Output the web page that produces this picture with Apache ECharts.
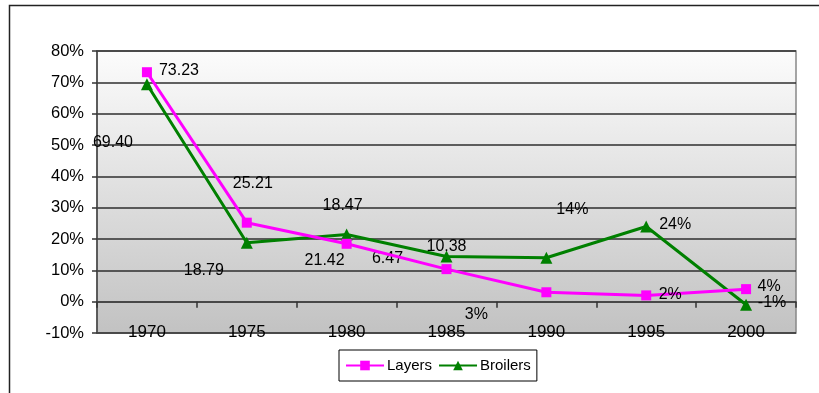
<!DOCTYPE html>
<html>
<head>
<meta charset="utf-8">
<script src="https://cdn.jsdelivr.net/npm/echarts@6/dist/echarts.min.js"></script>
<style>
  html, body { margin: 0; padding: 0; background: #fff; }
  #chart { width: 819px; height: 393px; }
</style>
</head>
<body>
<div id="chart"></div>
<script>
// Annual growth rates (%) for layers and broilers
const years = ['1970', '1975', '1980', '1985', '1990', '1995', '2000'];
const layers = [73.23, 25.21, 18.47, 10.38, 3, 2, 4];
const broilers = [69.40, 18.79, 21.42, 14.4, 14, 24, -1];
const layersLabels = ['73.23', '25.21', '18.47', '10.38', '3%', '2%', '4%'];
const broilersLabels = ['69.40', '18.79', '21.42', '6.47', '14%', '24%', '-1%'];
const yTicks = { min: -10, max: 80, step: 10 };

// Hand-placed label offsets (px) relative to each marker
const layersOffsets = [[32, -2], [6, -39], [-4, -38], [0, -23], [-70, 22], [24, -1], [23, -3]];
const broilersOffsets = [[-34, 58], [-43, 28], [-22, 26], [-59, 2], [26, -48], [29, -2], [26, -2]];

const FONT = '"Liberation Sans", Arial, sans-serif';

function withLabels(values, texts, offsets) {
  return values.map((v, i) => ({
    value: v,
    label: {
      show: true,
      position: 'inside',
      offset: offsets[i],
      formatter: texts[i],
      color: '#000',
      fontSize: 16,
      fontFamily: FONT,
      align: 'center',
      verticalAlign: 'middle'
    }
  }));
}

const chart = echarts.init(document.getElementById('chart'), null, { renderer: 'canvas' });

chart.setOption({
  animation: false,
  backgroundColor: '#fff',
  graphic: [{
    type: 'rect',
    shape: { x: 9.5, y: 5.5, width: 900, height: 500 },
    style: { fill: 'none', stroke: '#222', lineWidth: 1.5 },
    z: -1
  }],
  grid: {
    left: 97, right: 23, top: 51, bottom: 60,
    show: true,
    borderColor: '#888',
    borderWidth: 1.5,
    backgroundColor: {
      type: 'linear', x: 0, y: 0, x2: 0, y2: 1,
      colorStops: [
        { offset: 0, color: '#fcfcfc' },
        { offset: 1, color: '#c2c2c2' }
      ]
    }
  },
  legend: {
    left: 339,
    top: 350,
    orient: 'horizontal',
    borderColor: '#000',
    borderWidth: 1,
    padding: [8, 6],
    itemGap: 6,
    itemWidth: 38,
    itemHeight: 12,
    textStyle: { color: '#000', fontSize: 15, fontFamily: FONT, padding: [0, 0, 0, -2] },
    data: ['Layers', 'Broilers']
  },
  xAxis: {
    type: 'category',
    data: years,
    boundaryGap: true,
    axisLine: { onZero: true, lineStyle: { color: '#444', width: 1.5 } },
    axisTick: { show: true, inside: false, length: 6, lineStyle: { color: '#333', width: 1.5 } },
    axisLabel: { color: '#000', fontSize: 17, fontFamily: FONT, margin: -9 },
    splitLine: { show: false }
  },
  yAxis: {
    type: 'value',
    min: yTicks.min,
    max: yTicks.max,
    interval: yTicks.step,
    axisLine: { show: true, lineStyle: { color: '#444', width: 1.5 } },
    axisTick: { show: true, length: 5, lineStyle: { color: '#333', width: 1.5 } },
    axisLabel: { color: '#000', fontSize: 16.5, fontFamily: FONT, margin: 13, formatter: '{value}%' },
    splitLine: { show: true, lineStyle: { color: '#2e2e2e', width: 1.5 } }
  },
  series: [
    {
      name: 'Layers',
      type: 'line',
      data: withLabels(layers, layersLabels, layersOffsets),
      symbol: 'rect',
      symbolSize: 10,
      color: '#ff00ff',
      lineStyle: { color: '#ff00ff', width: 3 },
      itemStyle: { color: '#ff00ff' },
      z: 3
    },
    {
      name: 'Broilers',
      type: 'line',
      data: withLabels(broilers, broilersLabels, broilersOffsets),
      symbol: 'triangle',
      symbolSize: 12,
      color: '#008000',
      lineStyle: { color: '#008000', width: 3 },
      itemStyle: { color: '#008000' },
      z: 2
    }
  ]
});
</script>
</body>
</html>
